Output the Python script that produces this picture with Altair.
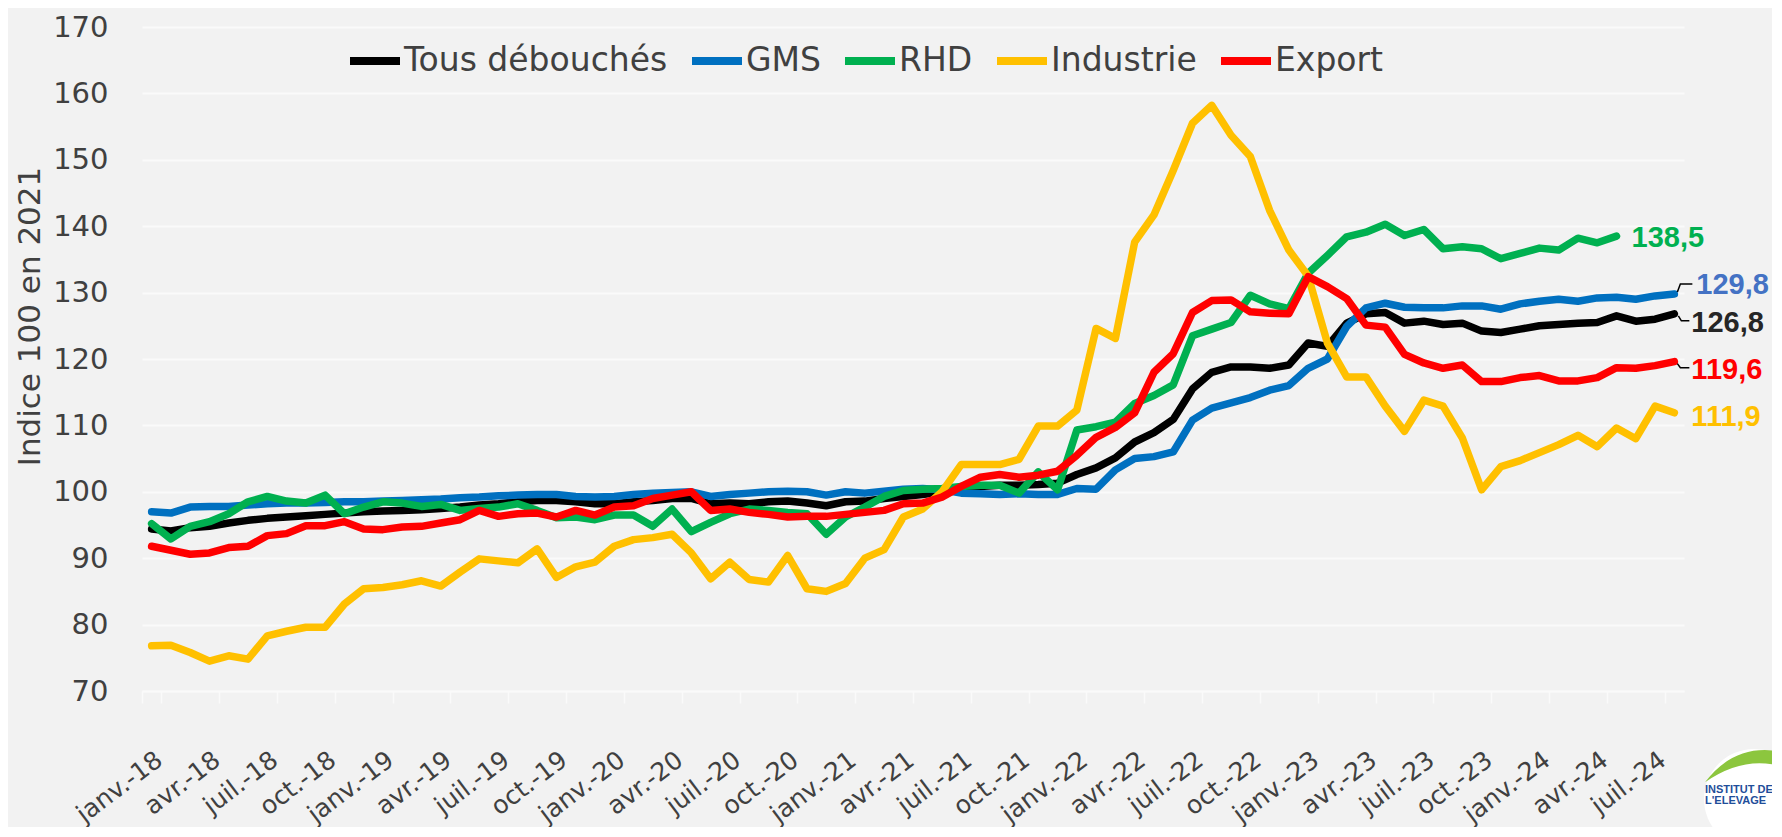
import altair as alt
import pandas as pd

mois = [
    "janv.-18", "févr.-18", "mars-18", "avr.-18", "mai-18", "juin-18", "juil.-18", "août-18", "sept.-18", "oct.-18", "nov.-18", "déc.-18",
    "janv.-19", "févr.-19", "mars-19", "avr.-19", "mai-19", "juin-19", "juil.-19", "août-19", "sept.-19", "oct.-19", "nov.-19", "déc.-19",
    "janv.-20", "févr.-20", "mars-20", "avr.-20", "mai-20", "juin-20", "juil.-20", "août-20", "sept.-20", "oct.-20", "nov.-20", "déc.-20",
    "janv.-21", "févr.-21", "mars-21", "avr.-21", "mai-21", "juin-21", "juil.-21", "août-21", "sept.-21", "oct.-21", "nov.-21", "déc.-21",
    "janv.-22", "févr.-22", "mars-22", "avr.-22", "mai-22", "juin-22", "juil.-22", "août-22", "sept.-22", "oct.-22", "nov.-22", "déc.-22",
    "janv.-23", "févr.-23", "mars-23", "avr.-23", "mai-23", "juin-23", "juil.-23", "août-23", "sept.-23", "oct.-23", "nov.-23", "déc.-23",
    "janv.-24", "févr.-24", "mars-24", "avr.-24", "mai-24", "juin-24", "juil.-24", "août-24",
]

tous_debouches = [
    94.4, 94.1, 94.6, 94.8, 95.3, 95.7, 96.0, 96.2, 96.4, 96.6,
    96.8, 97.0, 97.1, 97.2, 97.3, 97.5, 97.7, 98.0, 98.2, 98.5,
    98.7, 98.7, 98.5, 98.2, 98.2, 98.5, 98.7, 99.0, 99.0, 98.2,
    98.3, 98.2, 98.5, 98.6, 98.3, 97.9, 98.5, 98.6, 99.0, 99.3,
    99.6, 100.0, 100.3, 100.8, 101.0, 101.0, 101.1, 101.3, 102.6, 103.6,
    105.1, 107.5, 108.9, 110.9, 115.5, 118.0, 118.8, 118.8, 118.6, 119.1,
    122.4, 121.9, 125.4, 126.8, 127.0, 125.4, 125.7, 125.2, 125.4, 124.2,
    124.0, 124.5, 125.0, 125.2, 125.4, 125.5, 126.5, 125.7, 126.0, 126.8,
]

gms = [
    97.0, 96.8, 97.7, 97.8, 97.8, 98.0, 98.2, 98.3, 98.3, 98.4,
    98.5, 98.5, 98.6, 98.7, 98.8, 98.9, 99.1, 99.2, 99.4, 99.5,
    99.6, 99.6, 99.3, 99.2, 99.3, 99.6, 99.8, 99.9, 100.0, 99.3,
    99.6, 99.8, 100.0, 100.1, 100.0, 99.5, 100.0, 99.8, 100.1, 100.4,
    100.5, 100.3, 99.8, 99.7, 99.6, 99.7, 99.6, 99.6, 100.5, 100.4,
    103.3, 105.0, 105.3, 106.0, 110.8, 112.6, 113.4, 114.2, 115.3, 116.0,
    118.6, 120.0, 124.9, 127.7, 128.4, 127.8, 127.7, 127.7, 128.0, 128.0,
    127.5, 128.3, 128.7, 129.0, 128.7, 129.2, 129.3, 129.0, 129.5, 129.8,
]

rhd = [
    95.2, 92.9, 94.8, 95.5, 96.7, 98.5, 99.3, 98.6, 98.3, 99.5,
    96.7, 97.7, 98.5, 98.3, 97.8, 98.1, 97.2, 97.5, 97.7, 98.2,
    97.2, 96.1, 96.2, 95.8, 96.5, 96.5, 94.8, 97.4, 94.0, 95.4,
    96.7, 97.4, 97.2, 96.9, 96.7, 93.6, 96.2, 97.7, 99.3, 100.2,
    100.4, 100.5, 100.8, 101.0, 101.0, 99.8, 103.0, 100.3, 109.3, 109.8,
    110.5, 113.3, 114.5, 116.1, 123.5, 124.5, 125.5, 129.6, 128.3, 127.6,
    132.9, 135.6, 138.4, 139.1, 140.3, 138.6, 139.5, 136.6, 136.9, 136.6,
    135.1, 135.9, 136.7, 136.4, 138.2, 137.5, 138.5, None, None, None,
]

industrie = [
    76.8, 76.9, 75.8, 74.5, 75.3, 74.8, 78.3, 79.0, 79.6, 79.6,
    83.1, 85.4, 85.6, 86.0, 86.6, 85.8, 87.9, 89.9, 89.6, 89.3,
    91.4, 87.1, 88.7, 89.4, 91.8, 92.8, 93.1, 93.6, 90.8, 86.9,
    89.4, 86.8, 86.4, 90.4, 85.4, 85.0, 86.2, 90.0, 91.3, 96.2,
    97.4, 100.0, 104.1, 104.1, 104.1, 104.9, 109.9, 109.9, 112.3, 124.6,
    123.1, 137.6, 141.7, 148.4, 155.5, 158.2, 153.7, 150.5, 142.4, 136.4,
    132.5, 122.4, 117.3, 117.3, 112.9, 109.1, 113.8, 112.9, 108.1, 100.3,
    103.8, 104.7, 105.9, 107.1, 108.5, 106.8, 109.6, 108.0, 112.9, 111.9,
]

export = [
    91.8, 91.2, 90.6, 90.8, 91.6, 91.8, 93.4, 93.7, 94.9, 94.9,
    95.5, 94.4, 94.3, 94.7, 94.8, 95.3, 95.8, 97.2, 96.3, 96.7,
    96.8, 96.2, 97.2, 96.5, 97.7, 97.9, 99.0, 99.5, 100.0, 97.2,
    97.4, 96.9, 96.6, 96.2, 96.3, 96.3, 96.6, 96.9, 97.2, 98.2,
    98.3, 99.2, 100.8, 102.2, 102.6, 102.2, 102.5, 103.1, 105.5, 108.2,
    109.7, 111.9, 118.0, 120.8, 127.0, 128.8, 128.9, 127.1, 126.9, 126.8,
    132.4, 130.9, 129.1, 125.1, 124.8, 120.7, 119.4, 118.6, 119.1, 116.6,
    116.6, 117.2, 117.5, 116.7, 116.7, 117.2, 118.7, 118.6, 119.0, 119.6,
]

series = ["Tous débouchés", "GMS", "RHD", "Industrie", "Export"]
valeurs = [tous_debouches, gms, rhd, industrie, export]
couleurs = ["#000000", "#0070C0", "#00B050", "#FFC000", "#FF0000"]
couleurs_etiquettes = ["#262626", "#4472C4", "#00B050", "#FFC000", "#FF0000"]
decalages_etiquettes = [(17, 9), (22, -9), (15, 2), (17, 4), (17, 8)]
# leader lines (custom symbol paths) for some end labels
traits = {
    "Tous débouchés": "M0.2,0.1L0.35,0.35L0.75,0.35",
    "GMS": "M0.15,-0.1L0.3,-0.5L0.9,-0.5",
    "Export": "M0.15,0.1L0.3,0.3L0.75,0.3",
}

POLICE = "DejaVu Sans"
GRIS = "#404040"

rows = []
for s, vals in zip(series, valeurs):
    for m, v in zip(mois, vals):
        if v is not None:
            rows.append({"mois": m, "serie": s, "valeur": v})
df = pd.DataFrame(rows)

x_enc = alt.X(
    "mois:O",
    bandPosition=0.5,
    scale=alt.Scale(type="band", domain=mois, paddingInner=0, paddingOuter=0),
    axis=alt.Axis(
        values=mois[::3],
        tickBand="extent",
        labelAngle=323,
        labelAlign="right",
        labelBaseline="top",
        labelPadding=44,
        labelFontSize=25,
        labelColor=GRIS,
        labelFont=POLICE,
        labelOverlap=False,
        ticks=True,
        tickSize=12,
        tickColor="#FAFAFA",
        tickWidth=1.5,
        domainColor="#FAFAFA",
        domainWidth=1.5,
        grid=False,
        title=None,
    ),
)

y_enc = alt.Y(
    "valeur:Q",
    scale=alt.Scale(domain=[70, 170], nice=False, zero=False),
    axis=alt.Axis(
        values=list(range(70, 171, 10)),
        title="Indice 100 en 2021",
        titleFont=POLICE,
        titleFontSize=31,
        titleFontWeight="normal",
        titleColor=GRIS,
        titleAngle=270,
        titleX=-112,
        titleY=289,
        titleAlign="center",
        titleBaseline="middle",
        labelFont=POLICE,
        labelFontSize=29,
        labelColor=GRIS,
        labelPadding=34,
        domain=False,
        ticks=False,
        tickSize=0,
        grid=True,
        gridColor="#FAFAFA",
        gridWidth=2,
    ),
)

couleur = alt.Color(
    "serie:N",
    scale=alt.Scale(domain=series, range=couleurs),
    legend=alt.Legend(
        orient="none",
        legendX=204,
        legendY=5,
        direction="horizontal",
        title=None,
        symbolType="stroke",
        symbolStrokeWidth=8,
        symbolSize=2500,
        labelFont=POLICE,
        labelFontSize=33,
        labelColor=GRIS,
        labelOffset=0,
        labelLimit=500,
        columnPadding=8,
    ),
)

layers = []
for s in series:
    layers.append(
        alt.Chart(df)
        .transform_filter(alt.datum.serie == s)
        .mark_line(strokeWidth=7.5, strokeCap="round", strokeJoin="round")
        .encode(x=x_enc, y=y_enc, color=couleur)
    )

for s, vals, c, (dx, dy) in zip(series, valeurs, couleurs_etiquettes, decalages_etiquettes):
    dernier = max(i for i, v in enumerate(vals) if v is not None)
    lab = pd.DataFrame([{
        "mois": mois[dernier],
        "valeur": vals[dernier],
        "texte": f"{vals[dernier]:.1f}".replace(".", ","),
    }])
    layers.append(
        alt.Chart(lab)
        .mark_text(align="left", baseline="middle", dx=dx, dy=dy, color=c,
                   fontSize=29, fontWeight="bold", font="Liberation Sans")
        .encode(x=x_enc, y=y_enc, text="texte:N")
    )
    if s in traits:
        layers.append(
            alt.Chart(lab)
            .mark_point(shape=traits[s], size=1600, filled=False, stroke="#000000",
                        strokeWidth=1.5, opacity=1)
            .encode(x=x_enc, y=y_enc)
        )

# logo (bottom-right corner): white leaf, green swoosh, institute name
un = pd.DataFrame({"k": [0]})
logo = [
    alt.Chart(un).mark_point(shape="circle", size=10000, filled=True,
                             color="#FFFFFF", opacity=1)
    .encode(x=alt.value(1612), y=alt.value(772)),
    alt.Chart(un).mark_point(shape="M-1,0.35Q-0.2,-0.7,1,-0.55L1,-0.15Q0,-0.35,-1,0.35Z",
                             size=4900, filled=True, color="#8CC63E", opacity=1)
    .encode(x=alt.value(1598), y=alt.value(743)),
]
for texte, yy in [("INSTITUT DE", 763), ("L'ELEVAGE", 774)]:
    logo.append(
        alt.Chart(un).mark_text(align="left", baseline="middle", fontSize=11,
                                fontWeight="bold", font="Liberation Sans", color="#1F4E9A",
                                text=texte)
        .encode(x=alt.value(1563), y=alt.value(yy))
    )

chart = (
    alt.layer(*logo, *layers)
    .properties(
        width=1542,
        height=664,
        background="#F2F2F2",
        padding={"left": 134, "top": 19, "right": 88, "bottom": 136},
        autosize=alt.AutoSizeParams(type="none"),
    )
    .configure_view(stroke=None)
)

chart.save("out.html", embed_options={"renderer": "svg", "actions": False})
